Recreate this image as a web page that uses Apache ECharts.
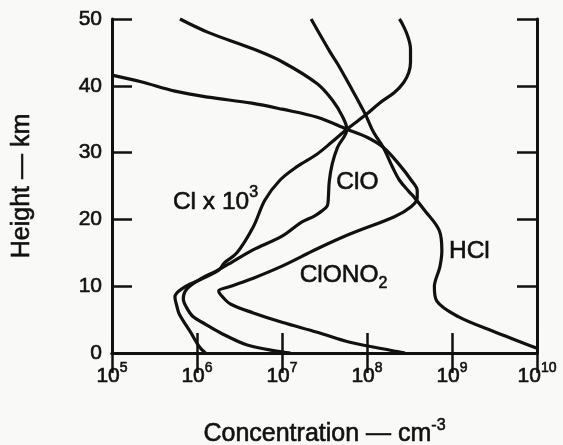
<!DOCTYPE html>
<html>
<head>
<meta charset="utf-8">
<title>Chlorine species profiles</title>
<script src="https://cdn.jsdelivr.net/npm/echarts@6/dist/echarts.min.js"></script>
<style>
  html, body { margin: 0; padding: 0; background: #f9f9f7; }
  #chart { width: 563px; height: 445px; }
</style>
</head>
<body>
<div id="chart"></div>
<script>
// Axis ranges and tick labels
const concMin = 1e5;
const concMax = 1e10;
const decadeExponents = [5, 6, 7, 8, 9, 10];
const heightTicks = [0, 10, 20, 30, 40, 50];

// HCl profile (km, cm^-3)
const hclHeight = [50, 45, 43.3, 40, 35.8, 33, 30.8, 27.8, 25.9, 24.2, 23.3, 21.3, 18.3, 15.3, 12.9, 9.9, 7.8, 5.4, 3.3, 0.7];
const hclConc   = [2.2e7, 3.7e7, 4.5e7, 6.3e7, 9.5e7, 1.2e8, 1.55e8, 2.0e8, 2.4e8, 3.1e8, 3.6e8, 4.8e8, 7.1e8, 7.6e8, 7.2e8, 6.2e8, 6.6e8, 1.2e9, 3.0e9, 1.0e10];

// ClONO2 profile
const clono2Height = [41.6, 40.6, 39.2, 38.3, 37.4, 36.5, 35.3, 33.5, 32.3, 30.8, 28.2, 25.9, 24.3, 23.2, 21.9, 20.4, 17.8, 15.6, 13.0, 11.2, 9.9, 9.3, 8.4, 7.3, 6.0, 4.6, 3.1, 1.6, 0.3, 0];
const clono2Conc   = [1.0e5, 2.2e5, 5.5e5, 1.35e6, 4.4e6, 1.0e7, 2.6e7, 5.8e7, 1.0e8, 1.55e8, 2.4e8, 3.3e8, 3.9e8, 3.9e8, 3.3e8, 2.1e8, 6.3e7, 2.6e7, 1.0e7, 4.6e6, 2.4e6, 1.8e6, 2.0e6, 2.5e6, 4.6e6, 1.0e7, 2.6e7, 6.3e7, 2.1e8, 2.8e8];

// ClO profile
const cloHeight = [50, 48, 45.5, 43.6, 40.3, 37.7, 35.5, 33.5, 30.8, 28.3, 25.7, 23.0, 22.0, 21.2, 20.5, 19.6, 17.5, 15.4, 13.5, 12.3, 11.0, 9.6, 8.1, 7.0, 5.5, 4.3, 3.0, 1.2, 0.2, 0];
const cloConc   = [6.3e5, 1.35e6, 4.6e6, 1.0e7, 2.6e7, 4.0e7, 5.1e7, 5.8e7, 4.5e7, 3.9e7, 3.6e7, 3.5e7, 3.4e7, 2.9e7, 2.4e7, 1.7e7, 1.0e7, 4.5e6, 2.5e6, 1.7e6, 1.07e6, 7.6e5, 6.9e5, 7.4e5, 8.9e5, 1.26e6, 1.9e6, 3.9e6, 9.5e6, 1.26e7];

// Cl profile, scaled by 10^3
const clHeight = [50, 49.3, 47.5, 45.5, 43.5, 42, 40.5, 39, 37.4, 35.8, 33.5, 31.5, 29.8, 27.9, 25.9, 22.9, 18.9, 15, 13.5, 12.4, 11.0, 9.7, 8.4, 7.0, 5.8, 3.0, 0.9, 0];
const clConc   = [2.4e8, 2.6e8, 3.0e8, 3.25e8, 3.25e8, 3.1e8, 2.7e8, 2.1e8, 1.4e8, 1.0e8, 5.8e7, 3.8e7, 2.6e7, 1.5e7, 9.5e6, 6.3e6, 4.6e6, 2.95e6, 2.1e6, 1.8e6, 1.1e6, 6.8e5, 5.5e5, 5.8e5, 6.2e5, 8.5e5, 1.07e6, 1.26e6];

// Curve label anchors [concentration, height]
const clLabelAt     = [1.65e6, 22.6];
const cloLabelAt    = [7.7e7, 25.6];
const clono2LabelAt = [5.3e7, 11.7];
const hclLabelAt    = [1.6e9, 15.2];

const FONT = '"Liberation Sans", Arial, Helvetica, sans-serif';
const INK = '#111';

function pairs(conc, height) {
  return conc.map((c, i) => [c, height[i]]);
}

// Text token style with a thin outline in the same ink to give a heavier print weight
function ink(size, extra) {
  return Object.assign({
    fontFamily: FONT, fontSize: size, color: INK,
    textBorderColor: INK, textBorderWidth: 0.6
  }, extra || {});
}

function labelMark(coord, formatter, rich) {
  return {
    silent: true,
    symbol: 'circle',
    symbolSize: 1,
    itemStyle: { color: 'transparent' },
    label: {
      show: true,
      position: 'inside',
      formatter: formatter,
      rich: rich
    },
    data: [{ coord: coord }]
  };
}

const labelRich = {
  m: ink(24.5, { lineHeight: 34 }),
  sup: ink(16, { lineHeight: 15, verticalAlign: 'top' }),
  sub: ink(16, { lineHeight: 15, verticalAlign: 'bottom' })
};

function curve(name, conc, height, mark) {
  return {
    name: name,
    type: 'line',
    data: pairs(conc, height),
    xAxisIndex: 0,
    yAxisIndex: 0,
    showSymbol: false,
    smooth: 0.35,
    clip: true,
    lineStyle: { color: INK, width: 3.2 },
    markPoint: mark
  };
}

const tickRich = {
  b: ink(21, { lineHeight: 30 }),
  s: ink(14, { lineHeight: 12, verticalAlign: 'top' })
};

const axisLine = { show: true, lineStyle: { color: INK, width: 3 } };
const axisTick = { show: true, inside: true, length: 20, lineStyle: { color: INK, width: 2.5 } };

const logAxisBase = {
  type: 'log',
  logBase: 10,
  min: concMin,
  max: concMax,
  axisLine: axisLine,
  axisTick: axisTick,
  minorTick: { show: false },
  splitLine: { show: false }
};

const heightAxisBase = {
  type: 'value',
  min: heightTicks[0],
  max: heightTicks[heightTicks.length - 1],
  interval: 10,
  axisLine: axisLine,
  axisTick: axisTick,
  splitLine: { show: false }
};

const chart = echarts.init(document.getElementById('chart'), null, { renderer: 'canvas' });

chart.setOption({
  backgroundColor: '#f9f9f7',
  animation: false,
  grid: { left: 112, right: 26, top: 19, bottom: 92, containLabel: false, outerBoundsMode: 'none' },
  xAxis: [
    Object.assign({}, logAxisBase, {
      position: 'bottom',
      axisLabel: {
        margin: 8,
        formatter: function (v) {
          const e = decadeExponents.find(k => Math.abs(Math.log10(v) - k) < 1e-6);
          return '{b|10}{s|' + e + '}';
        },
        rich: tickRich
      },
      name: '{n|Concentration — cm}{s|-3}',
      nameLocation: 'middle',
      nameGap: 65,
      nameTextStyle: {
        rich: {
          n: ink(25, { lineHeight: 32 }),
          s: ink(16, { lineHeight: 13, verticalAlign: 'top' })
        }
      }
    }),
    Object.assign({}, logAxisBase, {
      position: 'top',
      axisLabel: { show: false }
    })
  ],
  yAxis: [
    Object.assign({}, heightAxisBase, {
      position: 'left',
      axisLabel: Object.assign({ margin: 10 }, ink(21)),
      name: 'Height — km',
      nameLocation: 'middle',
      nameGap: 77,
      nameTextStyle: ink(25)
    }),
    Object.assign({}, heightAxisBase, {
      position: 'right',
      axisLabel: { show: false }
    })
  ],
  series: [
    curve('HCl', hclConc, hclHeight, labelMark(hclLabelAt, '{m|HCl}', labelRich)),
    curve('ClONO2', clono2Conc, clono2Height, labelMark(clono2LabelAt, '{m|ClONO}{sub|2}', labelRich)),
    curve('ClO', cloConc, cloHeight, labelMark(cloLabelAt, '{m|ClO}', labelRich)),
    curve('Cl x 10^3', clConc, clHeight, labelMark(clLabelAt, '{m|Cl x 10}{sup|3}', labelRich))
  ]
});
</script>
</body>
</html>
